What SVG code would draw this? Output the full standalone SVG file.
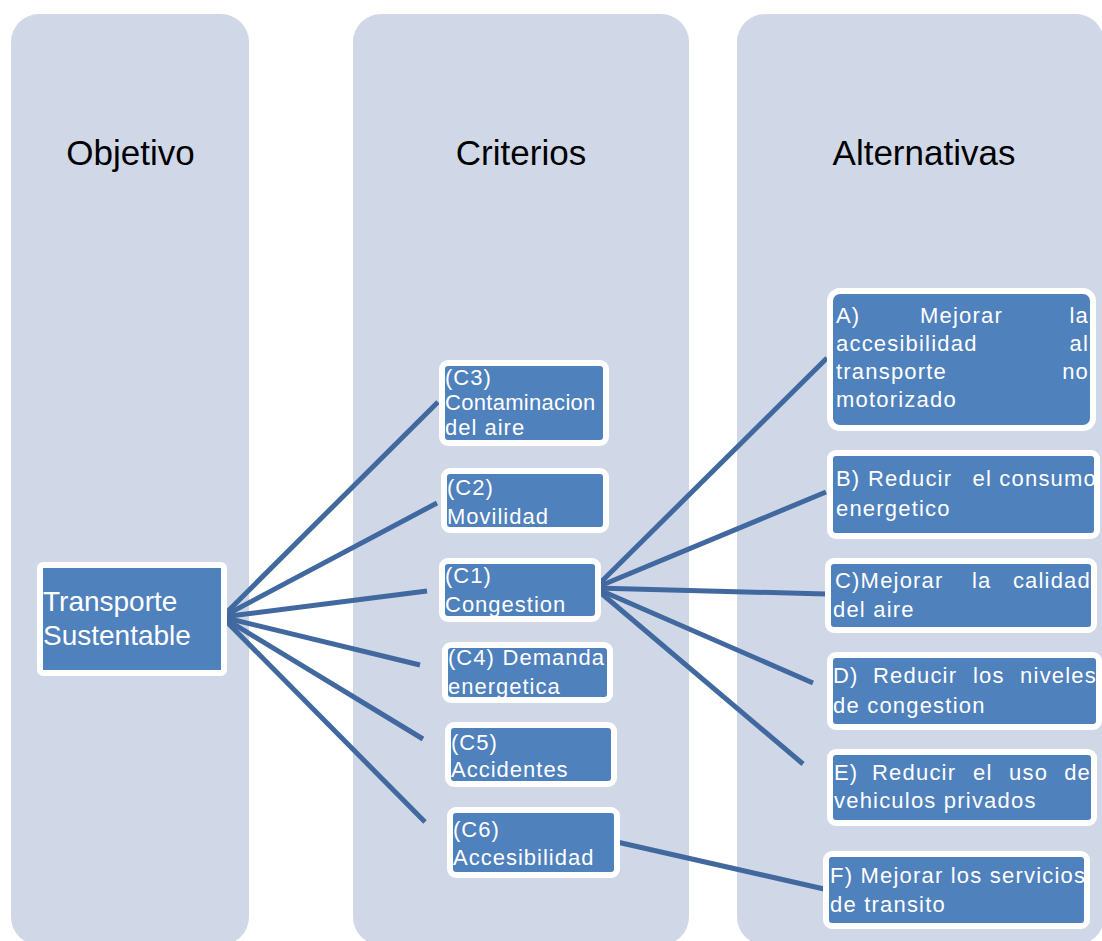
<svg xmlns="http://www.w3.org/2000/svg" width="1102" height="941" viewBox="0 0 1102 941">
<style>
.col{fill:#D0D8E8}
.title{font-family:"Liberation Sans",Arial,sans-serif;font-size:35px;fill:#000;text-anchor:middle}
.box{fill:#4F81BD;stroke:#FFFFFF;stroke-width:6}
.t{font-family:"Liberation Sans",Arial,sans-serif;fill:#FFFFFF}
.obj{font-size:28px}
.cr{font-size:22px;letter-spacing:1px}
.al{font-size:22px;letter-spacing:1.2px}
.end{text-anchor:end}
.conn line{stroke:#41699F;stroke-width:5;stroke-linecap:butt}
</style>
<g id="columns">
<rect class="col" x="11" y="14" width="238" height="931" rx="28"/>
<rect class="col" x="353" y="14" width="336" height="931" rx="28"/>
<rect class="col" x="737" y="14" width="367" height="931" rx="28"/>
<text class="title" x="130.5" y="165">Objetivo</text>
<text class="title" x="521" y="165">Criterios</text>
<text class="title" x="924" y="165">Alternativas</text>
</g>
<g class="conn" id="connectors">
<line x1="222" y1="617" x2="438" y2="402"/>
<line x1="222" y1="617" x2="437" y2="503"/>
<line x1="222" y1="617" x2="427" y2="591"/>
<line x1="222" y1="617" x2="420" y2="665"/>
<line x1="222" y1="617" x2="423" y2="739"/>
<line x1="222" y1="617" x2="425" y2="822"/>
<line x1="595" y1="588" x2="827" y2="358"/>
<line x1="595" y1="588" x2="826" y2="492"/>
<line x1="595" y1="588" x2="826" y2="594"/>
<line x1="595" y1="588" x2="813" y2="683"/>
<line x1="595" y1="588" x2="803" y2="764"/>
<line x1="617" y1="842" x2="824" y2="889"/>
</g>
<g id="objetivo">
<rect class="box" x="40" y="565" width="184" height="108" rx="3"/>
<text class="t obj" x="43" y="611">Transporte</text>
<text class="t obj" x="43" y="645">Sustentable</text>
</g>
<g id="c3">
<rect class="box" x="442" y="363" width="164" height="80" rx="6"/>
<text class="t cr" x="445" y="385">(C3)</text>
<text class="t cr" x="445" y="410" style="letter-spacing:0.3px">Contaminacion</text>
<text class="t cr" x="445" y="435">del aire</text>
</g>
<g id="c2">
<rect class="box" x="444" y="471" width="162" height="59" rx="6"/>
<text class="t cr" x="447" y="495">(C2)</text>
<text class="t cr" x="447" y="524">Movilidad</text>
</g>
<g id="c1">
<rect class="box" x="442" y="561" width="156" height="58" rx="6"/>
<text class="t cr" x="445" y="583">(C1)</text>
<text class="t cr" x="445" y="612">Congestion</text>
</g>
<g id="c4">
<rect class="box" x="445" y="645" width="165" height="55" rx="6"/>
<text class="t cr" y="665"><tspan x="448">(C4)</tspan><tspan x="605" class="end">Demanda</tspan></text>
<text class="t cr" x="448" y="694">energetica</text>
</g>
<g id="c5">
<rect class="box" x="448" y="725" width="166" height="59" rx="6"/>
<text class="t cr" x="451" y="750">(C5)</text>
<text class="t cr" x="451" y="777">Accidentes</text>
</g>
<g id="c6">
<rect class="box" x="450" y="810" width="167" height="65" rx="6"/>
<text class="t cr" x="453" y="837">(C6)</text>
<text class="t cr" x="453" y="865">Accesibilidad</text>
</g>
<g id="altA">
<rect class="box" x="830" y="291" width="263" height="137" rx="10"/>
<text class="t al" y="323"><tspan x="836">A)</tspan><tspan x="920">Mejorar</tspan><tspan x="1089" class="end">la</tspan></text>
<text class="t al" y="351"><tspan x="836">accesibilidad</tspan><tspan x="1089" class="end">al</tspan></text>
<text class="t al" y="379"><tspan x="836">transporte</tspan><tspan x="1089" class="end">no</tspan></text>
<text class="t al" x="836" y="407">motorizado</text>
</g>
<g id="altB">
<rect class="box" x="830" y="453" width="267" height="83" rx="6"/>
<text class="t al" y="486"><tspan x="836">B)</tspan><tspan x="868">Reducir</tspan><tspan x="1097" class="end">el consumo</tspan></text>
<text class="t al" x="836" y="516">energetico</text>
</g>
<g id="altC">
<rect class="box" x="828" y="561" width="266" height="69" rx="6"/>
<text class="t al" y="588"><tspan x="835">C)Mejorar</tspan><tspan x="972">la</tspan><tspan x="1091" class="end">calidad</tspan></text>
<text class="t al" x="833" y="617">del aire</text>
</g>
<g id="altD">
<rect class="box" x="830" y="655" width="269" height="72" rx="6"/>
<text class="t al" y="683"><tspan x="833">D)</tspan><tspan x="873">Reducir</tspan><tspan x="973">los</tspan><tspan x="1097" class="end">niveles</tspan></text>
<text class="t al" x="833" y="713">de congestion</text>
</g>
<g id="altE">
<rect class="box" x="830" y="752" width="264" height="71" rx="6"/>
<text class="t al" y="780"><tspan x="834">E)</tspan><tspan x="872">Reducir</tspan><tspan x="973">el</tspan><tspan x="1009">uso</tspan><tspan x="1091" class="end">de</tspan></text>
<text class="t al" x="834" y="808">vehiculos privados</text>
</g>
<g id="altF">
<rect class="box" x="826" y="854" width="261" height="72" rx="6"/>
<text class="t al" x="830" y="883">F) Mejorar los servicios</text>
<text class="t al" x="830" y="912">de transito</text>
</g>
</svg>
